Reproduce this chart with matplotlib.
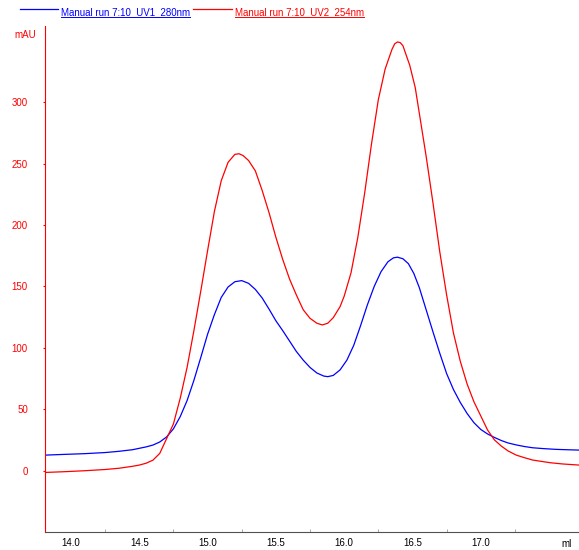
import matplotlib
matplotlib.use("Agg")
import matplotlib.pyplot as plt
from matplotlib.lines import Line2D

plt.rcParams['font.family'] = ['Liberation Sans', 'DejaVu Sans']

# chromatogram values (ml, mAU)
uv1_ml = [13.81, 13.95, 14.10, 14.25, 14.35, 14.45, 14.55, 14.60, 14.65, 14.70,
          14.75, 14.80, 14.85, 14.90, 14.95, 15.00, 15.05, 15.10, 15.15, 15.20,
          15.25, 15.30, 15.35, 15.40, 15.45, 15.50, 15.55, 15.60, 15.65, 15.70,
          15.75, 15.80, 15.85, 15.88, 15.92, 15.97, 16.02, 16.07, 16.12, 16.17,
          16.22, 16.27, 16.32, 16.36, 16.39, 16.43, 16.47, 16.51, 16.55, 16.60,
          16.65, 16.70, 16.75, 16.80, 16.85, 16.90, 16.95, 17.00, 17.05, 17.10,
          17.15, 17.20, 17.26, 17.32, 17.38, 17.46, 17.55, 17.63, 17.72]
uv1_mau = [12.6, 13.2, 13.8, 14.7, 15.7, 17.0, 19.3, 20.8, 23.3, 27.4,
           34.0, 44.0, 57.0, 73.5, 92.0, 111.0, 127.0, 141.0, 149.5, 153.8,
           154.7, 152.5, 147.5, 140.5, 131.5, 122.0, 114.0, 105.5, 97.0, 90.0,
           84.0, 79.5, 77.0, 76.5, 77.5, 82.0, 90.0, 102.0, 118.0, 135.0,
           150.0, 162.0, 170.0, 173.2, 173.8, 172.5, 168.5, 160.5, 149.0, 131.0,
           113.0, 95.5, 79.0, 66.0, 55.5, 46.5, 39.0, 33.5, 29.8, 27.0,
           24.5, 22.5, 20.9, 19.6, 18.6, 17.9, 17.3, 17.0, 16.7]

uv2_ml = [13.81, 13.95, 14.10, 14.25, 14.35, 14.45, 14.50, 14.55, 14.60, 14.65,
          14.70, 14.75, 14.80, 14.85, 14.90, 14.95, 15.00, 15.05, 15.10, 15.15,
          15.20, 15.23, 15.26, 15.30, 15.35, 15.40, 15.45, 15.50, 15.55, 15.60,
          15.65, 15.70, 15.75, 15.80, 15.84, 15.88, 15.92, 15.97, 16.00, 16.05,
          16.10, 16.15, 16.20, 16.25, 16.30, 16.35, 16.37, 16.39, 16.41, 16.43,
          16.48, 16.52, 16.56, 16.60, 16.65, 16.70, 16.75, 16.80, 16.85, 16.90,
          16.95, 17.00, 17.05, 17.10, 17.15, 17.20, 17.26, 17.32, 17.38, 17.45,
          17.51, 17.60, 17.72]
uv2_mau = [-1.5, -0.9, -0.1, 0.9, 1.9, 3.5, 4.5, 6.0, 8.5, 14.0,
           26.0, 38.0, 59.0, 84.0, 114.0, 146.0, 179.0, 211.0, 236.0, 251.0,
           257.5, 258.0, 256.5, 252.5, 244.0, 228.0, 210.0, 190.0, 172.0, 156.0,
           143.0, 131.0, 124.0, 120.0, 118.6, 120.0, 124.5, 133.5, 142.0, 161.0,
           190.0, 226.0, 266.0, 302.0, 327.0, 343.0, 347.5, 349.0, 348.5, 346.0,
           330.0, 312.0, 284.0, 256.0, 218.0, 178.0, 143.0, 112.0, 89.0, 70.5,
           56.0, 44.5, 33.0, 25.0, 20.0, 16.0, 12.6, 10.5, 8.6, 7.4,
           6.4, 5.4, 4.5]

x_ticks = [14.0, 14.5, 15.0, 15.5, 16.0, 16.5, 17.0]
y_ticks = [0, 50, 100, 150, 200, 250, 300]
uv1_name = "Manual run 7:10_UV1_280nm"
uv2_name = "Manual run 7:10_UV2_254nm"

fig = plt.figure(figsize=(5.79, 5.5), dpi=100)
ax = fig.add_axes([0.0782, 0.0327, 0.9218, 0.92])

ax.plot(uv1_ml, uv1_mau, color='#0000ff', lw=0.9)
ax.plot(uv2_ml, uv2_mau, color='#ff0000', lw=0.9)

ax.set_xlim(13.812, 17.719)
ax.set_ylim(-50, 362)

ax.spines['top'].set_visible(False)
ax.spines['right'].set_visible(False)
ax.spines['left'].set_color('#ff0000')
ax.spines['bottom'].set_color('#505050')

ax.set_yticks(y_ticks)
ax.set_yticklabels([str(v) for v in y_ticks])
ax.tick_params(axis='y', colors='#ff0000', labelsize=7, length=1.5, pad=11)

ax.set_xticks(x_ticks)
ax.set_xticklabels([f"{v:.1f}" for v in x_ticks])
ax.tick_params(axis='x', labelsize=7, length=0, pad=4, labelcolor='black')
ax.set_xticks([v + 0.25 for v in x_ticks], minor=True)
ax.tick_params(axis='x', which='minor', direction='in', length=2, color='#999999')

ax.text(17.63, -56, "ml", fontsize=7, ha='center', va='top', clip_on=False)
fig.text(14 / 579, 1 - 35 / 550, "mAU", color='#ff0000', fontsize=7, va='center')

# underlined legend entries on top
fig.canvas.draw()
renderer = fig.canvas.get_renderer()
legend_items = [(20, 58, 61, '#0000ff', uv1_name), (193, 232, 235, '#ff0000', uv2_name)]
for x0, x1, tx, col, name in legend_items:
    fig.add_artist(Line2D([x0 / 579, x1 / 579], [1 - 9 / 550] * 2, color=col, lw=0.9))
    t = fig.text(tx / 579, 1 - 12 / 550, name, color=col, fontsize=7, va='center')
    bb = t.get_window_extent(renderer)
    fig.add_artist(Line2D([bb.x0 / 579, bb.x1 / 579], [1 - 16.5 / 550] * 2, color=col, lw=0.7))

fig.savefig('out.png', dpi=100)
